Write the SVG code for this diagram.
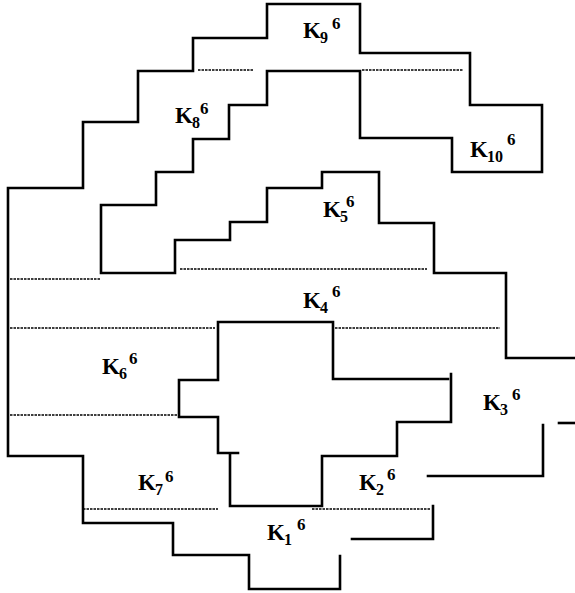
<svg xmlns="http://www.w3.org/2000/svg" width="575" height="593" viewBox="0 0 575 593">
<style>
.s{fill:none;stroke:#000;stroke-width:2.6;stroke-linejoin:miter;stroke-linecap:square}
.d{fill:none;stroke:#000;stroke-width:1.6;stroke-dasharray:2.5 1}
.k{font-family:"Liberation Serif","Times New Roman",serif;font-size:23px;font-weight:bold;fill:#000}
.b{font-family:"Liberation Serif","Times New Roman",serif;font-size:16px;font-weight:bold;fill:#000}
.p{font-family:"Liberation Serif","Times New Roman",serif;font-size:17px;font-weight:bold;fill:#000}
</style>
<rect width="575" height="593" fill="#fff"/>
<g id="connectors">
<polyline class="s" points="340,556 340,589 249,589 249,555 173,555 173,523 83,523 83,456 8,456 8,188 83,188 83,122 138,122 138,71 193,71 193,38 267,38 267,4 360,4 360,53 470,53 470,105 542,105 542,172 452,172 452,138 360,138 360,71 267,71 267,105 229,105 229,139 193,139 193,172 156,172 156,205 101,205 101,273 175,273 175,240 230,240 230,222 267,222 267,188 322,188 322,172 379,172 379,223 434,223 434,273 506,273 506,358 575,358"/>
<polyline class="s" points="448,379 333,379 333,322 218,322 218,380 179,380 179,417 218,417 218,453 238,453"/>
<polyline class="s" points="230,455 230,506 322,506 322,456 397,456 397,422 451,422 451,374"/>
<polyline class="s" points="559,423 575,423"/>
<polyline class="s" points="543,425 543,476 428,476"/>
<polyline class="s" points="433,506 433,539 352,539"/>
<g class="d">
<line x1="198" y1="70" x2="253" y2="70"/>
<line x1="362" y1="70" x2="463" y2="70"/>
<line x1="180" y1="269" x2="427" y2="269"/>
<line x1="10" y1="279" x2="101" y2="279"/>
<line x1="10" y1="328" x2="215" y2="328"/>
<line x1="335" y1="328" x2="500" y2="328"/>
<line x1="10" y1="415" x2="177" y2="415"/>
<line x1="83" y1="509" x2="218" y2="509"/>
<line x1="312" y1="509" x2="430" y2="509"/>
</g>
</g>
<g id="K9"><text class="k" x="303" y="38">K</text><text class="b" x="320" y="43">9</text><text class="p" x="332" y="29">6</text></g>
<g id="K8"><text class="k" x="175" y="123">K</text><text class="b" x="192" y="128">8</text><text class="p" x="200" y="114">6</text></g>
<g id="K10"><text class="k" x="470" y="157">K</text><text class="b" x="487" y="162">10</text><text class="p" x="507" y="145">6</text></g>
<g id="K5"><text class="k" x="323" y="217">K</text><text class="b" x="340" y="222">5</text><text class="p" x="346" y="207">6</text></g>
<g id="K4"><text class="k" x="303" y="308">K</text><text class="b" x="320" y="313">4</text><text class="p" x="332" y="297">6</text></g>
<g id="K6"><text class="k" x="102" y="374">K</text><text class="b" x="119" y="379">6</text><text class="p" x="129" y="364">6</text></g>
<g id="K3"><text class="k" x="483" y="410">K</text><text class="b" x="500" y="415">3</text><text class="p" x="512" y="400">6</text></g>
<g id="K7"><text class="k" x="138" y="490">K</text><text class="b" x="155" y="495">7</text><text class="p" x="165" y="482">6</text></g>
<g id="K2"><text class="k" x="359" y="490">K</text><text class="b" x="376" y="495">2</text><text class="p" x="387" y="480">6</text></g>
<g id="K1"><text class="k" x="267" y="540">K</text><text class="b" x="284" y="545">1</text><text class="p" x="297" y="530">6</text></g>
</svg>
